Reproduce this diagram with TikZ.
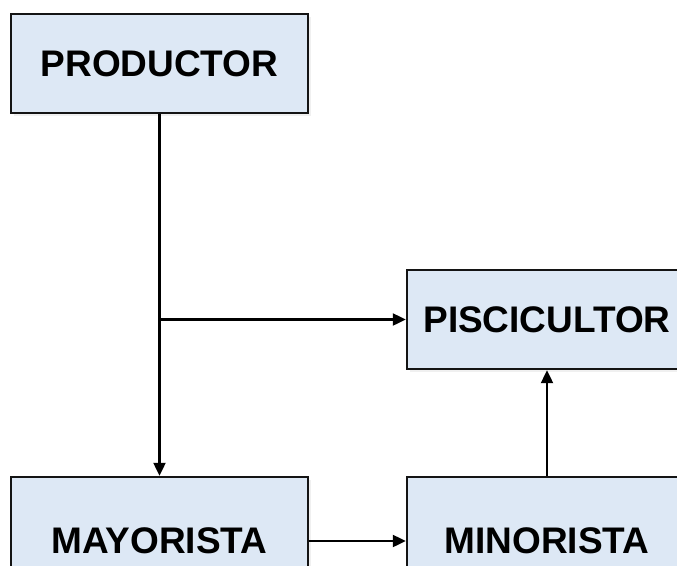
\documentclass[tikz,border=0pt]{standalone}
\usepackage{fontspec}
\setmainfont{Liberation Sans}
\usetikzlibrary{arrows.meta,shadows}
\definecolor{boxfill}{RGB}{221,232,245}
\definecolor{boxline}{RGB}{20,20,20}
\begin{document}
\begin{tikzpicture}[x=1pt,y=-1pt,
  actor/.style={draw=boxline, line width=2.4pt, fill=boxfill, rectangle,
    inner sep=0pt,
    font=\fontsize{37}{40}\selectfont\bfseries,
    drop shadow={opacity=0.12, shadow xshift=3pt, shadow yshift=-3pt}},
  flow/.style={line width=2.2pt, draw=black,
    -{Triangle[length=13pt,width=12pt]}}]
  \useasboundingbox (0,0) rectangle (677,565);
  \clip (0,0) rectangle (677,565);
  % boxes
  \node[actor, minimum width=297pt, minimum height=99pt]  (prod) at (159.5,63.5)  {PRODUCTOR};
  \node[actor, minimum width=280pt, minimum height=99pt]  (pisc) at (547,319.5)   {PISCICULTOR};
  \node[actor, minimum width=297pt, minimum height=128pt] (mayo) at (159.5,541)   {MAYORISTA};
  \node[actor, minimum width=280pt, minimum height=128pt] (mino) at (547,541)     {MINORISTA};
  % branch point on the productor line
  \coordinate (branch) at (prod.south |- pisc.west);
  % connectors
  \draw[flow] (prod.south) -- (mayo.north);
  \draw[flow] (branch) -- (pisc.west);
  \draw[flow] (mayo.east) -- (mino.west);
  \draw[flow] (mino.north) -- (pisc.south);
\end{tikzpicture}
\end{document}
